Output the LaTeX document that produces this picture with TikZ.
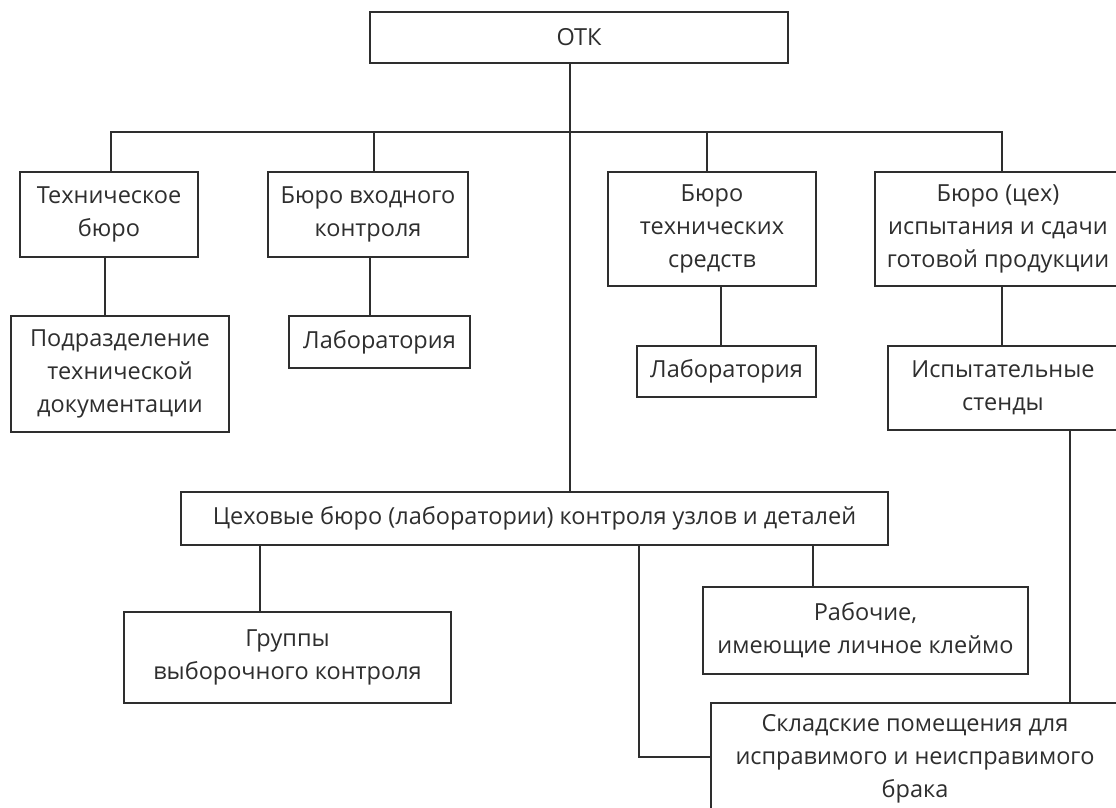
\documentclass[tikz,border=0pt]{standalone}
\usepackage{fontspec}
\setmainfont{Open Sans}
\definecolor{ink}{HTML}{2E2E2E}
\begin{document}
\begin{tikzpicture}[x=1pt,y=-1pt,
  box/.style={draw=ink, line width=2.4pt, fill=white, align=center, inner sep=0pt,
    text=ink, font=\fontsize{23.5}{33}\selectfont},
  link/.style={draw=ink, line width=2.4pt}]
\useasboundingbox (0,0) rectangle (1116,808);
\clip (0,0) rectangle (1116,808);

% top level
\node[box, minimum width=418pt, minimum height=51pt] (otk) at (579,37.5) {ОТК};

% bureaus
\node[box, minimum width=178pt, minimum height=85pt] (tb)  at (109,214.5) {Техническое\\бюро};
\node[box, minimum width=200pt, minimum height=85pt] (bvk) at (368,214.5) {Бюро входного\\контроля};
\node[box, minimum width=208pt, minimum height=114pt] (bts) at (712,229) {Бюро\\технических\\средств};
\node[box, minimum width=246pt, minimum height=114pt] (bis) at (998,229) {Бюро (цех)\\испытания и сдачи\\готовой продукции};

% second level
\node[box, minimum width=218pt, minimum height=116pt] (pod)  at (120,374) {Подразделение\\технической\\документации};
\node[box, minimum width=181pt, minimum height=52pt]  (lab1) at (379.5,342) {Лаборатория};
\node[box, minimum width=179pt, minimum height=51pt]  (lab2) at (726.5,371.5) {Лаборатория};
\node[box, minimum width=230pt, minimum height=84pt]  (isp)  at (1003,388) {Испытательные\\стенды};

% shop level
\node[box, minimum width=707pt, minimum height=53pt] (cex) at (534.5,518.5) {Цеховые бюро (лаборатории) контроля узлов и деталей};
\node[box, minimum width=327pt, minimum height=91pt] (grp) at (287.5,657.5) {Группы\\выборочного контроля};
\node[box, minimum width=325pt, minimum height=87pt] (rab) at (865.5,630.5) {Рабочие,\\имеющие личное клеймо};
\node[box, minimum width=408pt, minimum height=112pt] (skl) at (915,759) {Складские помещения для\\исправимого и неисправимого\\брака};

% connector positions
\coordinate (trunk) at (570,0);
\coordinate (bus) at (0,132);
\coordinate (d1) at (111,0);
\coordinate (d2) at (374,0);
\coordinate (d3) at (707,0);
\coordinate (d4) at (1002,0);
\coordinate (s1) at (105,0);
\coordinate (s2) at (370,0);
\coordinate (s3) at (721,0);
\coordinate (s4) at (1002,0);
\coordinate (s5) at (1070,0);
\coordinate (c1) at (260,0);
\coordinate (c2) at (639,0);
\coordinate (c3) at (813,0);
\coordinate (ret) at (0,757);

% trunk and bus
\draw[link] (otk.south -| trunk) -- (cex.north -| trunk);
\draw[link] (tb.north -| d1) -- (d1 |- bus) -- (d4 |- bus) -- (bis.north -| d4);
\draw[link] (bvk.north -| d2) -- (d2 |- bus);
\draw[link] (bts.north -| d3) -- (d3 |- bus);

% bureau to sub-units
\draw[link] (tb.south -| s1) -- (pod.north -| s1);
\draw[link] (bvk.south -| s2) -- (lab1.north -| s2);
\draw[link] (bts.south -| s3) -- (lab2.north -| s3);
\draw[link] (bis.south -| s4) -- (isp.north -| s4);
\draw[link] (isp.south -| s5) -- (skl.north -| s5);

% shop bureaus to groups
\draw[link] (cex.south -| c1) -- (grp.north -| c1);
\draw[link] (cex.south -| c3) -- (rab.north -| c3);
\draw[link] (cex.south -| c2) -- (c2 |- ret) -- (skl.west |- ret);
\end{tikzpicture}
\end{document}
